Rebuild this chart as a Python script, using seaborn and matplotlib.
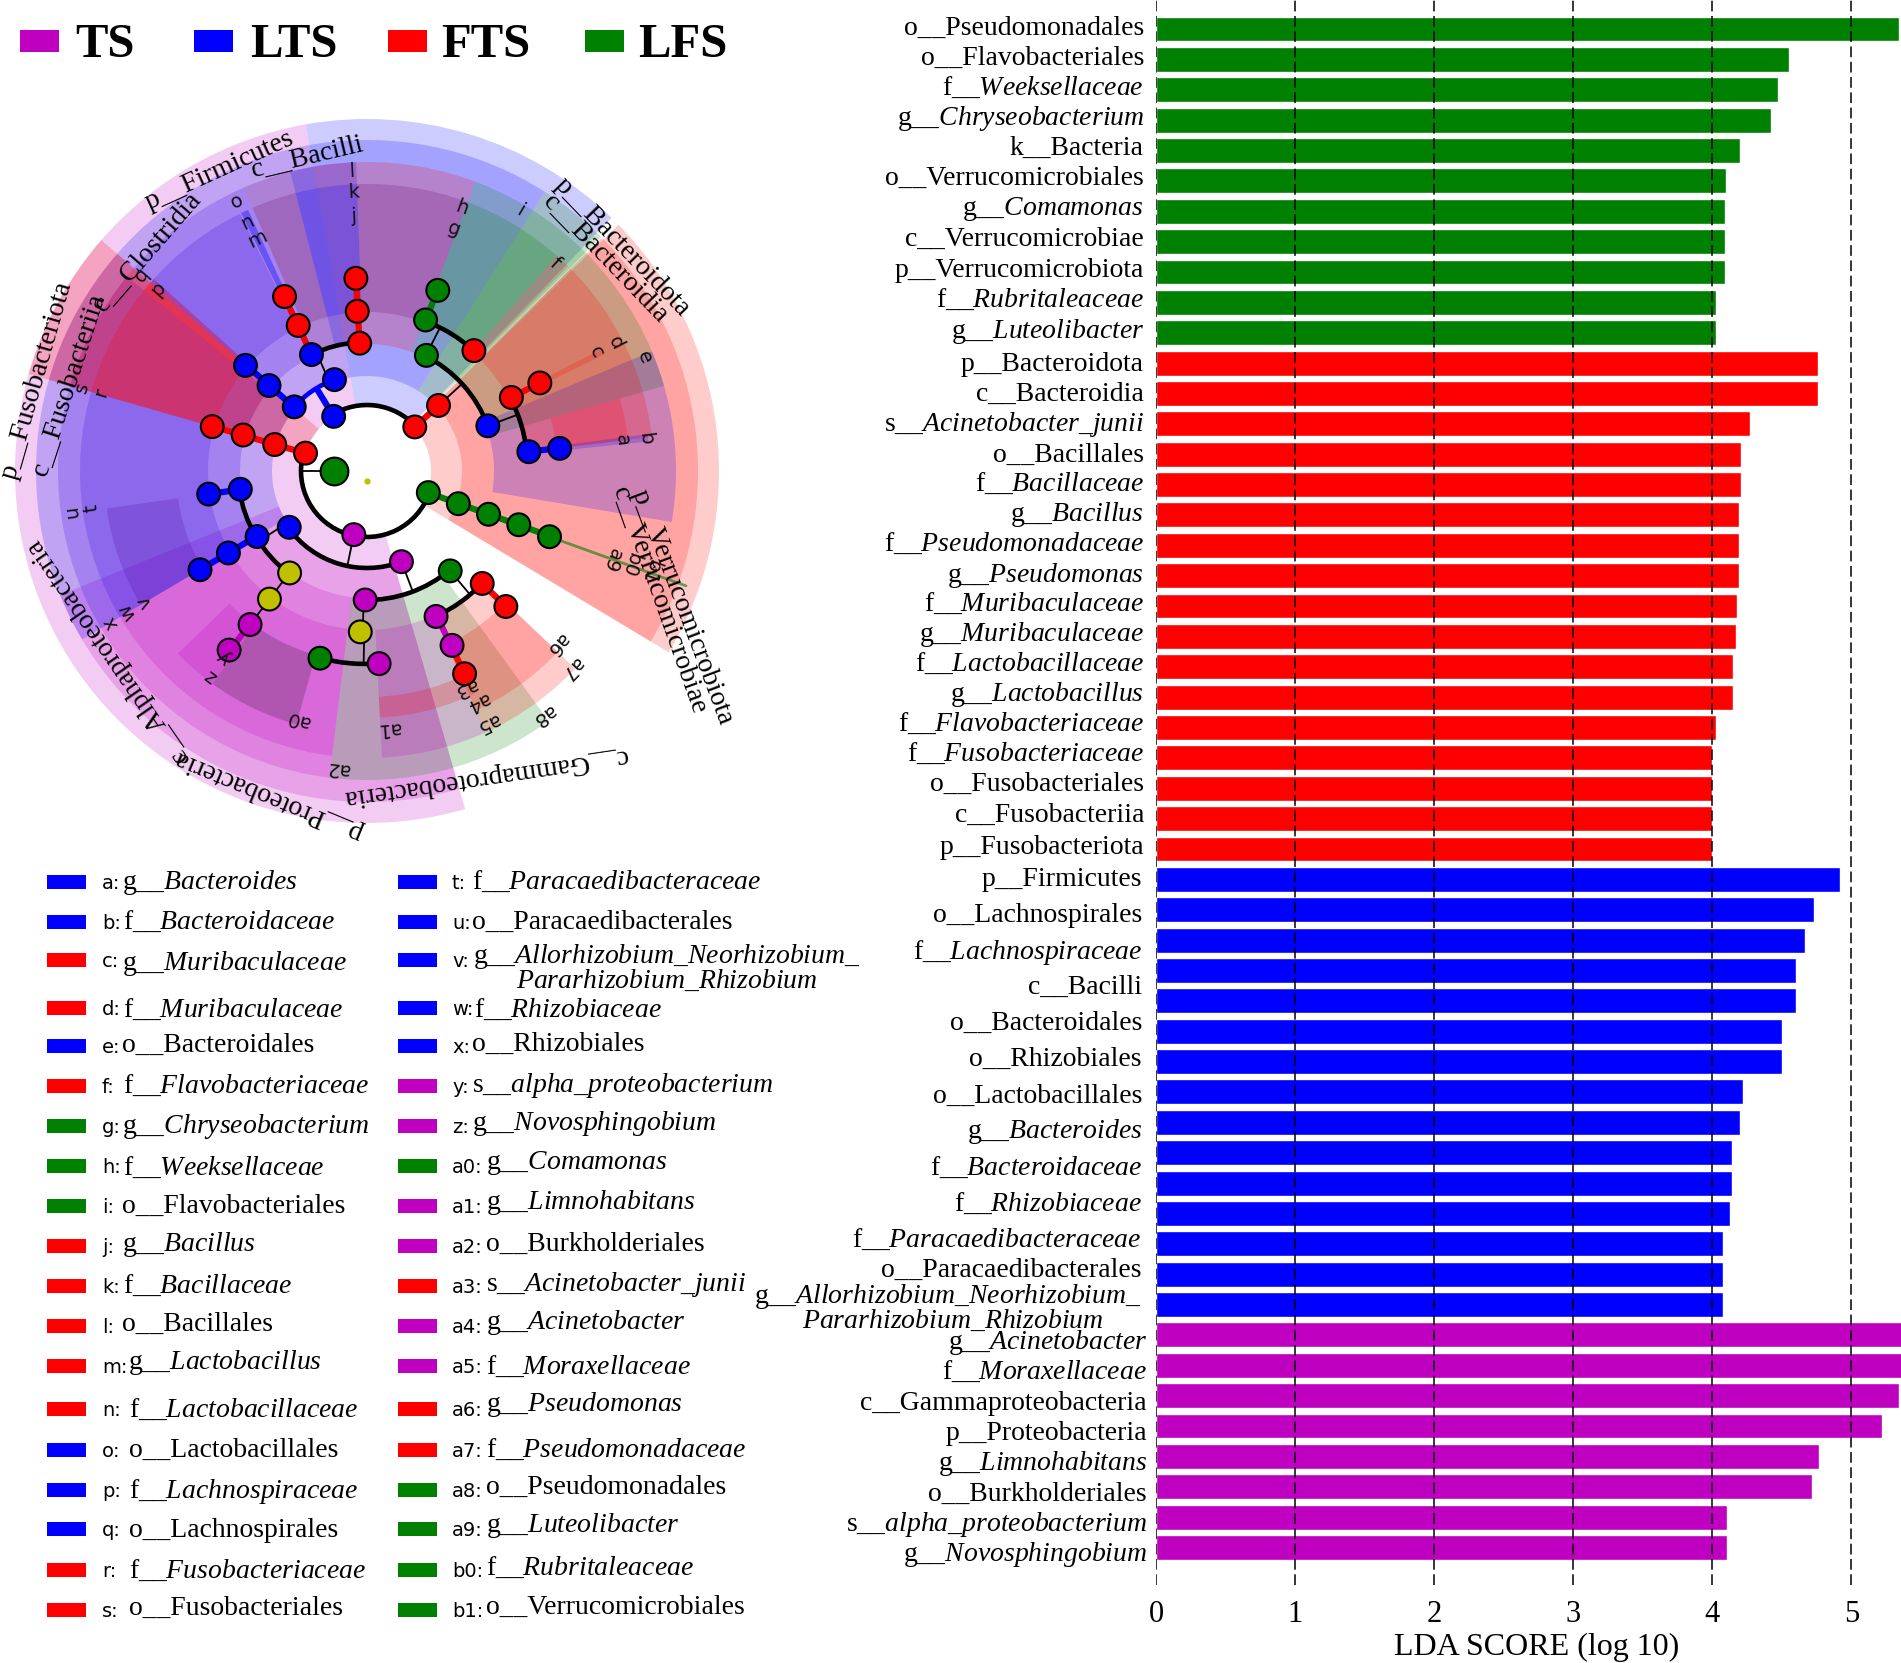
import numpy as np
import pandas as pd
import seaborn as sns
import matplotlib.pyplot as plt
from matplotlib.patches import Wedge, Rectangle

W, H = 1901, 1663
COL = {"TS": "#c000c0", "LTS": "#0000ff", "FTS": "#ff0000", "LFS": "#008000"}
m, b, r, g, y, k = COL["TS"], COL["LTS"], COL["FTS"], COL["LFS"], "#c0c000", "black"
dm = "#600060"
vb = "#3000e0"

# LDA bars
lfs_scores = [5.34, 4.55, 4.47, 4.42, 4.20, 4.10, 4.09, 4.09, 4.09, 4.03, 4.03]
fts_scores = [4.76, 4.76, 4.27, 4.21, 4.21, 4.19, 4.19, 4.19, 4.18, 4.17, 4.15, 4.15,
              4.03, 4.00, 4.00, 4.00, 4.00]
lts_scores = [4.92, 4.73, 4.67, 4.60, 4.60, 4.50, 4.50, 4.22, 4.20, 4.14, 4.14, 4.13,
              4.08, 4.08, 4.08]
ts_scores = [5.45, 5.42, 5.34, 5.22, 4.77, 4.72, 4.11, 4.11]

lfs_labels = ["o__Pseudomonadales", "o__Flavobacteriales", "f__Weeksellaceae", "g__Chryseobacterium",
              "k__Bacteria", "o__Verrucomicrobiales", "g__Comamonas", "c__Verrucomicrobiae",
              "p__Verrucomicrobiota", "f__Rubritaleaceae", "g__Luteolibacter"]
fts_labels = ["p__Bacteroidota", "c__Bacteroidia", "s__Acinetobacter_junii", "o__Bacillales",
              "f__Bacillaceae", "g__Bacillus", "f__Pseudomonadaceae", "g__Pseudomonas",
              "f__Muribaculaceae", "g__Muribaculaceae", "f__Lactobacillaceae", "g__Lactobacillus",
              "f__Flavobacteriaceae", "f__Fusobacteriaceae", "o__Fusobacteriales", "c__Fusobacteriia",
              "p__Fusobacteriota"]
lts_labels = ["p__Firmicutes", "o__Lachnospirales", "f__Lachnospiraceae", "c__Bacilli",
              "o__Bacteroidales", "o__Rhizobiales", "o__Lactobacillales", "g__Bacteroides",
              "f__Bacteroidaceae", "f__Rhizobiaceae", "f__Paracaedibacteraceae",
              "o__Paracaedibacterales", "g__Allorhizobium_Neorhizobium_"]
ts_labels = ["g__Acinetobacter", "f__Moraxellaceae", "c__Gammaproteobacteria", "p__Proteobacteria",
             "g__Limnohabitans", "o__Burkholderiales", "s__alpha_proteobacterium", "g__Novosphingobium"]

# where each name sits on the page (the lettering does not follow the bars exactly)
lfs_label_y = [27, 57, 87, 117, 147, 177, 207, 238, 269, 299, 330]
fts_label_y = [363, 393, 423, 454, 483, 513, 543, 574, 603, 633, 663, 693, 723, 753, 783, 814, 846]
lts_label_y = [878, 914, 951, 986, 1022, 1058, 1095, 1130, 1167, 1203, 1239, 1269, 1295]
ts_label_y = [1341, 1371, 1402, 1432, 1462, 1493, 1523, 1553]

# cladogram key
key_left = ["a:g__Bacteroides", "b:f__Bacteroidaceae", "c:g__Muribaculaceae", "d:f__Muribaculaceae",
            "e:o__Bacteroidales", "f:f__Flavobacteriaceae", "g:g__Chryseobacterium", "h:f__Weeksellaceae",
            "i:o__Flavobacteriales", "j:g__Bacillus", "k:f__Bacillaceae", "l:o__Bacillales",
            "m:g__Lactobacillus", "n:f__Lactobacillaceae", "o:o__Lactobacillales", "p:f__Lachnospiraceae",
            "q:o__Lachnospirales", "r:f__Fusobacteriaceae", "s:o__Fusobacteriales"]
key_right = ["t:f__Paracaedibacteraceae", "u:o__Paracaedibacterales", "v:g__Allorhizobium_Neorhizobium_",
             "w:f__Rhizobiaceae", "x:o__Rhizobiales", "y:s__alpha_proteobacterium", "z:g__Novosphingobium",
             "a0:g__Comamonas", "a1:g__Limnohabitans", "a2:o__Burkholderiales", "a3:s__Acinetobacter_junii",
             "a4:g__Acinetobacter", "a5:f__Moraxellaceae", "a6:g__Pseudomonas", "a7:f__Pseudomonadaceae",
             "a8:o__Pseudomonadales", "a9:g__Luteolibacter", "b0:f__Rubritaleaceae", "b1:o__Verrucomicrobiales"]
key_left_colors = [b, b, r, r, b, r, g, g, g, r, r, r, r, r, b, b, b, r, r]
key_right_colors = [b, b, b, b, b, m, m, g, m, m, r, m, m, r, r, g, g, g, g]
key_rows = [882, 922, 960, 1008, 1046, 1086, 1126, 1166, 1206, 1246, 1286, 1326, 1366, 1409, 1450, 1490, 1529, 1570, 1610]
key_left_y = [881, 921, 962, 1009, 1044, 1085, 1125, 1167, 1205, 1243, 1285, 1323, 1361, 1409, 1449, 1490, 1529, 1570, 1607]
key_right_y = [881, 921, 955, 1009, 1043, 1084, 1122, 1161, 1201, 1243, 1283, 1321, 1366, 1403, 1449, 1486, 1524, 1567, 1606]
key_left_x = [122, 123, 122, 123, 122, 123, 122, 123, 122, 122, 123, 122, 128, 129, 129, 129, 129, 129, 129]
key_right_x = [472, 472, 473, 474, 472, 472, 472, 486, 486, 486, 486, 486, 486, 486, 486, 486, 486, 486, 486]

# cladogram, radii in px from the hub, angles clockwise from east
cx, cy = 367, 471
ring_in = [64, 95, 127, 159, 191]
ring_out = [352, 331, 309, 287, 263]
sectors = [
    (0, 73.8, 221, m), (0, 196, 221, r), (0, 221, 260, m), (0, 260, 314, b), (0, 315.6, 391, r),
    (1, 73.8, 158, m), (1, 149.4, 302.5, b), (1, 196, 221, r), (1, 302.5, 315, g), (1, 315.2, 391, r),
    (2, 54, 97, g), (2, 97, 149.4, m), (2, 149.4, 171.8, vb), (2, 171.8, 219, vb), (2, 196, 221, r),
    (2, 221, 246.5, vb), (2, 246.5, 260, dm), (2, 255.6, 268, b), (2, 260, 290.5, r),
    (2, 290.5, 344, g), (2, 337.2, 369.5, b),
    (3, 43.5, 65.5, r), (3, 65.5, 87, m), (3, 97, 149.4, m), (3, 149.4, 171.8, vb), (3, 171.8, 196, vb),
    (3, 196, 219, r), (3, 219, 222, r), (3, 219, 222, r), (3, 221, 243.7, vb), (3, 246.5, 255.6, dm),
    (3, 255.6, 268, b), (3, 268, 290.5, dm), (3, 290.5, 311.4, g), (3, 311.4, 314.5, r),
    (3, 315.2, 353.2, r),
    (4, 43.5, 65.5, r), (4, 105.6, 126, g), (4, 105.6, 136, m), (4, 149.4, 171.8, "#5000a0"), (4, 344, 353.2, r),
    ((226, 247), 64, 87, r), ((194, 263), 332.5, 333.8, r), ((194, 283), 352.5, 354, b),
    ((161, 287), 244, 245.5, b), ((161, 287), 244, 245.5, b),
]
arcs = [(66, 19.4, 196, k), (66, 238.6, 317.3, k), (97, 69.2, 144.1, k), (129, 296.6, 339.5, k),
        (129, 244.5, 266.7, k), (129, 50.2, 90.8, k), (129, 127.2, 171.8, k), (161, 291.2, 311.6, k),
        (161, 333, 353.2, k), (161, 44.3, 64.6, k), (193, 86.4, 104.1, k), (97, 221.4, 250, b)]
thick_spokes = [(64, 161, 196.1, r), (97, 161, 221.2, b), (64, 97, 238.6, b), (129, 193, 266.7, r),
                (129, 193, 244.6, r), (161, 194, 291.3, g), (64, 97, 317.4, r), (161, 194, 333, r),
                (161, 194, 353.2, b), (65, 194, 19.6, g), (129, 161, 171.7, b), (129, 194, 149.4, b),
                (193, 226, 127.4, m), (161, 194, 64.3, m), (194, 224, 64.3, r), (161, 194, 44.3, r)]
thin_spokes = [(97, 129, 247), (129, 161, 297), (97, 129, 317.5), (129, 161, 339.5), (66, 97, 101.7),
               (97, 129, 69.2), (129, 161, 50.2), (129, 161, 91.5), (161, 193, 91), (97, 129, 147),
               (129, 193, 127.3), (33, 66, 180)]
nodes = [(64, 196.2, r), (96, 196, r), (129, 196.2, r), (161, 196, r),
         (64, 238.6, b), (97, 221.4, b), (130, 221.1, b), (161, 221, b), (97, 250.4, b), (129, 244.5, b),
         (161, 244.7, r), (193, 244.7, r), (128, 266.7, r), (160, 266.5, r), (193, 266.7, r),
         (130, 297.2, g), (162, 291.2, g), (194, 291.4, g), (161, 311.6, r), (65, 317.3, r), (97, 317.5, r),
         (129, 339.5, b), (162, 333, r), (194, 333, r), (163, 353.2, b), (194, 353.3, b),
         (65, 19.4, g), (97, 19.7, g), (129, 19.6, g), (161, 19.5, g), (194, 19.8, g),
         (65, 101.7, m), (97, 69.2, m), (129, 90.8, m), (130, 50.2, g), (161, 44.3, r), (194, 44.3, r),
         (161, 64.6, m), (194, 64, m), (225, 64.3, r), (161, 92.4, y), (193, 86.4, m), (193, 104.1, g),
         (96, 144.1, b), (128, 149.2, b), (128, 171.8, b), (160, 171.7, b), (161, 149.4, b), (194, 149.4, b),
         (128, 127.2, y), (161, 127.3, y), (193, 127.3, m), (226, 127.6, m)]

clade_labels = ["p__Firmicutes", "c__Bacilli", "c__Clostridia", "p__Fusobacteriota", "c__Fusobacteriia",
                "p__Bacteroidota", "c__Bacteroidia", "p__Verrucomicrobiota", "c__Verrucomicrobiae",
                "c__Gammaproteobacteria", "c__Alphaproteobacteria", "p__Proteobacteria"]
clade_label_pos = [(220, 170, 24.4), (307, 157, 13.4), (148, 252, 49), (37, 380, 74), (69, 385, 72),
                   (622, 247, -46), (605, 259, -46), (682, 607, -69.4), (659, 600, -70.4),
                   (485, 777, 188.5), (107, 651, 124.6), (269, 795, 157.5)]
letters = ["a", "b", "c", "d", "e", "f", "g", "h", "i", "j", "k", "l", "m", "n", "o", "p", "q", "r", "s", "t", "u",
           "v", "w", "x", "y", "z", "a0", "a1", "a2", "a3", "a4", "a5", "a6", "a7", "a8", "a9", "b0", "b1"]
letter_pos = [(622, 440), (645, 438), (596, 352), (616, 343), (644, 357), (555, 263), (454, 229), (462, 208),
              (520, 211), (354, 216), (354, 192), (352, 171), (257, 239), (247, 222), (237, 201), (158, 289),
              (142, 275), (101, 393), (82, 388), (92, 508), (72, 512), (145, 602), (127, 612), (111, 623),
              (224, 657), (211, 676), (298, 719), (388, 728), (337, 768), (465, 688), (477, 702), (487, 723),
              (557, 645), (571, 669), (543, 716), (612, 560), (630, 564), (650, 572)]


def taxon(text):
    rank, name = text.split("__", 1)
    if rank in ("f", "g", "s"):
        return rank + "__$\\mathit{" + name.replace("_", "\\_") + "}$"
    return text


def polar(rad, ang):
    return cx + rad * np.cos(np.radians(ang)), cy + rad * np.sin(np.radians(ang))


sns.set_theme(style="white")
plt.rcParams["font.family"] = ["Liberation Serif", "DejaVu Sans"]
plt.rcParams["mathtext.fontset"] = "custom"
plt.rcParams["mathtext.rm"] = "Liberation Serif"
plt.rcParams["mathtext.it"] = "Liberation Serif:italic"
plt.rcParams["mathtext.bf"] = "Liberation Serif:bold"

fig = plt.figure(figsize=(W / 100, H / 100), dpi=100)

# page axes in pixels for the cladogram and all the lettering
page = fig.add_axes([0, 0, 1, 1])
page.set_xlim(0, W)
page.set_ylim(H, 0)
page.axis("off")

for lev, t1, t2, c in sectors:
    rin, rout = lev if isinstance(lev, tuple) else (ring_in[lev], ring_out[lev])
    page.add_patch(Wedge((cx, cy), rout, t1, t2, width=rout - rin, fc=c, ec="none", alpha=0.2, zorder=1))
page.plot(*zip(polar(194, 19.8), polar(339, 19.8)), color=g, lw=2, alpha=0.6, zorder=2)
for rad, t1, t2, c in arcs:
    page.add_patch(Wedge((cx, cy), rad + 2.3, t1, t2, width=4.6, fc=c, ec="none", zorder=3))
for r1, r2, ang, c in thick_spokes:
    page.plot(*zip(polar(r1, ang), polar(r2, ang)), color=c, lw=4.5, zorder=3, solid_capstyle="butt")
for r1, r2, ang in thin_spokes:
    page.plot(*zip(polar(r1, ang), polar(r2, ang)), color=k, lw=1.3, zorder=3)
xs, ys = polar(np.array([n[0] for n in nodes]), np.array([n[1] for n in nodes]))
page.scatter(xs, ys, s=270, c=[n[2] for n in nodes], edgecolors=k, linewidths=1.5, zorder=4)
hub_x, hub_y = polar(33, 180)
page.scatter([hub_x], [hub_y], s=400, c=g, edgecolors=k, linewidths=1.5, zorder=4)
page.scatter([367], [481], s=12, c=y, zorder=4)

for text, (x, yy, rot) in zip(clade_labels, clade_label_pos):
    page.text(x, yy, text, fontsize=20, rotation=rot, ha="center", va="center",
              rotation_mode="anchor", color=k, zorder=5)
for text, (x, yy) in zip(letters, letter_pos):
    ang = np.degrees(np.arctan2(yy - cy, x - cx))
    page.text(x, yy, text, fontsize=14, family="DejaVu Sans", rotation=-(ang + 90),
              ha="center", va="center", rotation_mode="anchor", color="#111111", zorder=5)

# top legend
for name, sx, tx in zip(["TS", "LTS", "FTS", "LFS"], [20, 194, 388, 585], [75, 250, 441, 638]):
    page.add_patch(Rectangle((sx, 30), 39, 22, fc=COL[name], ec="none"))
    page.text(tx, 57, name, fontsize=35, fontweight="bold", ha="left", va="baseline", color=k)

# cladogram key
for keys, colors, ypos, xpos, sx, kx in [(key_left, key_left_colors, key_left_y, key_left_x, 47, 102),
                                         (key_right, key_right_colors, key_right_y, key_right_x, 398, 452)]:
    for text, c, row, ty, tx in zip(keys, colors, key_rows, ypos, xpos):
        tag, name = text.split(":", 1)
        page.add_patch(Rectangle((sx, row - 7), 39, 14, fc=c, ec="none"))
        page.text(kx, row + 7, tag + ":", fontsize=14, family="DejaVu Sans", ha="left",
                  va="baseline", color=k)
        page.text(tx, ty + 8, taxon(name), fontsize=20, ha="left", va="baseline", color=k)
page.text(516, 988, "$\\mathit{Pararhizobium\\_Rhizobium}$", fontsize=20, ha="left", va="baseline", color=k)

# bar names
for labels, ypos, right in [(lfs_labels, lfs_label_y, 1144), (fts_labels, fts_label_y, 1144),
                            (lts_labels, lts_label_y, 1142), (ts_labels, ts_label_y, 1147)]:
    for text, ty in zip(labels, ypos):
        page.text(right, ty + 8, taxon(text), fontsize=20, ha="right", va="baseline", color=k)
page.text(1104, 1328, "$\\mathit{Pararhizobium\\_Rhizobium}$", fontsize=20, ha="right", va="baseline", color=k)

# LDA bars
scores = lfs_scores + fts_scores + lts_scores + ts_scores
groups = ["LFS"] * len(lfs_scores) + ["FTS"] * len(fts_scores) + ["LTS"] * len(lts_scores) + ["TS"] * len(ts_scores)
df = pd.DataFrame({"row": np.arange(len(scores)), "score": scores, "group": groups})

ax = fig.add_axes([1156 / W, 1 - 1585 / H, (W - 1156) / W, 1585 / H])
ax.patch.set_alpha(0)
sns.barplot(data=df, x="score", y="row", hue="group", palette=COL, orient="h", dodge=False,
            width=0.82, saturation=1, legend=False, ax=ax)
ax.set_xlim(0, (W - 1156) / 139.05)
ax.set_ylim((1585 - 29) / 30.37, -29 / 30.37)
ax.set_yticks([])
ax.set_ylabel("")
ax.set_xticks(range(6))
ax.grid(axis="x", color="black", lw=1.1, ls=(0, (7, 3)))
ax.set_axisbelow(False)
sns.despine(ax=ax, left=True, bottom=True)
ax.tick_params(axis="x", length=0, labelsize=22, pad=11, labelcolor="black")
ax.set_xlabel("LDA SCORE (log 10)", fontsize=23, color="black")
ax.xaxis.set_label_coords((1537 - 1156) / (W - 1156), -0.0305)
ax.xaxis.label.set_va("top")

fig.savefig("out.png", dpi=100)
